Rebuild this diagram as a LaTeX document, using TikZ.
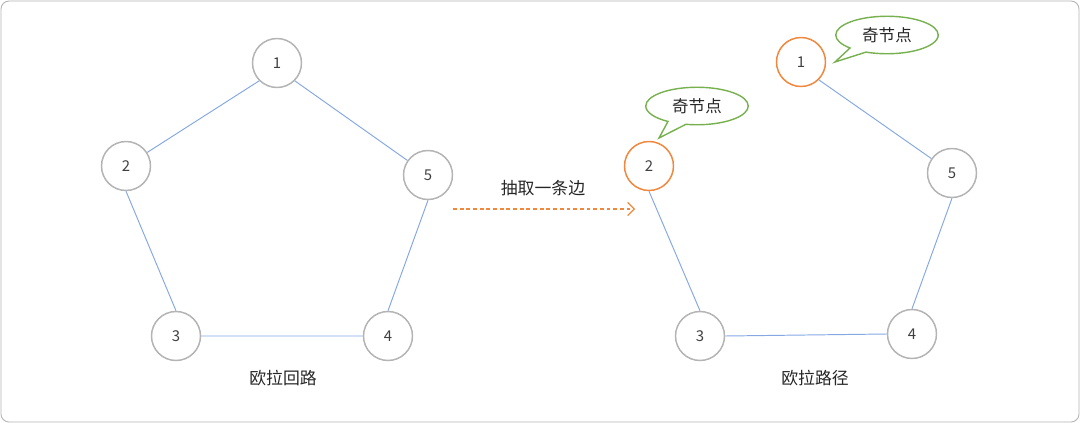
\documentclass[tikz,border=0pt]{standalone}
\usepackage{fontspec}
\setmainfont{Noto Sans CJK SC}
\usetikzlibrary{arrows.meta,shapes.callouts}
\definecolor{vgray}{HTML}{B4B4B4}
\definecolor{eblue}{HTML}{86A8E2}
\definecolor{oddorange}{HTML}{F0883E}
\definecolor{tipgreen}{HTML}{76B04F}
\tikzset{
  vertex/.style={circle, draw=vgray, line width=0.85pt, minimum size=0.98cm, inner sep=0pt,
    text=black!75, font=\fontsize{8.5}{10}\selectfont},
  oddvertex/.style={vertex, draw=oddorange},
  edge/.style={draw=eblue, line width=0.55pt},
  caption/.style={text=black!85, font=\fontsize{9.6}{11}\selectfont},
  tip/.style={ellipse callout, draw=tipgreen, line width=0.8pt, minimum width=2.05cm,
    minimum height=0.75cm, inner sep=0pt, callout pointer arc=22,
    text=black!85, font=\fontsize{9.4}{11}\selectfont}
}

\begin{document}
\begin{tikzpicture}[x=0.02cm, y=-0.02cm]
  \useasboundingbox (0, 0) rectangle (1080, 423);
  \draw[black!30, line width=0.5pt, rounded corners=0.16cm] (1, 1) rectangle (1079, 422);

  % left graph: Euler circuit
  \node[vertex] (l1) at (277, 63) {1};
  \node[vertex] (l2) at (126, 166) {2};
  \node[vertex] (l5) at (428, 175) {5};
  \node[vertex] (l3) at (176, 336) {3};
  \node[vertex] (l4) at (388, 336) {4};
  \draw[edge] (l1.south west) -- (l2) (l2.south) -- (l3.north) (l3.east) -- (l4.west)
    (l4.north) -- (l5.south) (l5) -- (l1.south east);
  \node[caption] (lcap) at (283, 378) {欧拉回路};

  % the arrow in between
  \coordinate (from) at (453, 209);
  \coordinate (to) at (635, 209);
  \draw[oddorange, line width=0.7pt, dash pattern=on 2.2pt off 1.6pt,
    -{Straight Barb[length=1.3mm, width=2.6mm]}] (from) -- (to);
  \node[caption] (cut) at (543, 188) {抽取一条边};

  % right graph: Euler path
  \node[oddvertex] (r1) at (801, 62) {1};
  \node[oddvertex] (r2) at (649, 166) {2};
  \node[vertex] (r5) at (952, 173) {5};
  \node[vertex] (r3) at (700, 336) {3};
  \node[vertex] (r4) at (912, 334) {4};
  \draw[edge] (r1.south east) -- (r5) (r5.south) -- (r4.north) (r4.west) -- (r3.east)
    (r3.north) -- (r2.south);
  \node[caption] (rcap) at (815, 378) {欧拉路径};

  % odd vertex callouts
  \node[tip, callout absolute pointer={(835, 62)}] (tip1) at (887, 35) {奇节点};
  \node[tip, callout absolute pointer={(659, 138)}] (tip2) at (697, 106) {奇节点};
\end{tikzpicture}
\end{document}
